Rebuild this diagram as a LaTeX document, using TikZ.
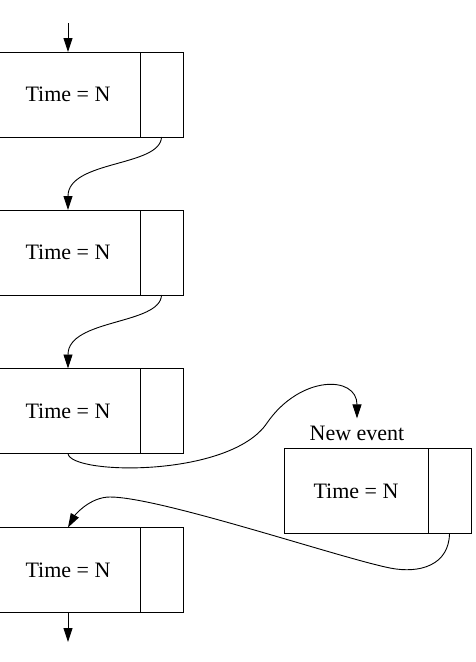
\documentclass[tikz,border=0pt]{standalone}
\usepackage{fontspec}
\setmainfont{Liberation Serif}
\usetikzlibrary{arrows.meta}
\begin{document}
\begin{tikzpicture}[x=1pt,y=-1pt,
  every node/.style={font=\fontsize{22}{26}\selectfont},
  lbox/.style={draw, line width=0.9pt, minimum width=144pt, minimum height=85pt, inner sep=0pt, outer sep=0pt},
  rcell/.style={draw, line width=0.9pt, minimum width=43pt, minimum height=85pt, inner sep=0pt, outer sep=0pt, anchor=west},
  arr/.style={line width=0.9pt, -{Triangle[length=14pt,width=9pt]}}]
\useasboundingbox (0,0) rectangle (476,662);
% boxes
\node[lbox] (b1) at (68,94.5) {Time = N};
\node[rcell] (c1) at (b1.east) {};
\node[lbox] (b2) at (68,252.5) {Time = N};
\node[rcell] (c2) at (b2.east) {};
\node[lbox] (b3) at (68,411) {Time = N};
\node[rcell] (c3) at (b3.east) {};
\node[lbox] (b4) at (356,491) {Time = N};
\node[rcell] (c4) at (b4.east) {};
\node[lbox] (b5) at (68,570) {Time = N};
\node[rcell] (c5) at (b5.east) {};
\node[inner xsep=0pt, inner ysep=7pt, anchor=base] (ne) at (357,440) {New event};
% connectors
\coordinate (top) at (68,23);
\coordinate (bot) at (68,642);
\coordinate (m1) at (267,423);
\coordinate (m2) at (390,568);
\coordinate (m3) at (110,497);
\draw[arr] (top) -- (b1.north);
\draw[arr] (c1.south) .. controls +(-1,30) and +(0,-50) .. (b2.north);
\draw[arr] (c2.south) .. controls +(-1,30) and +(0,-50) .. (b3.north);
\draw[arr] (b3.south) .. controls (70,475) and (230,478) .. (m1) .. controls (300,375) and (357,375) .. (ne.north);
\draw[arr] (c4.south) .. controls (449,565) and (420,574) .. (m2) .. controls (340,558) and (160,497) .. (m3) .. controls (90,497) and (75,515) .. (b5.north);
\draw[arr] (b5.south) -- (bot);
\end{tikzpicture}
\end{document}
